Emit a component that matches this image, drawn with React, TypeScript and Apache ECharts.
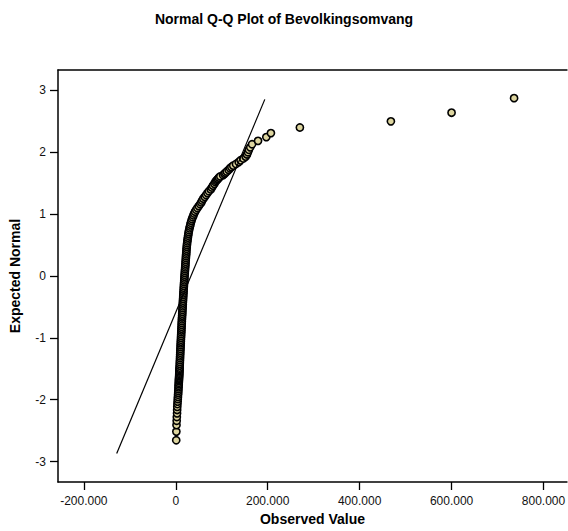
import React, { useEffect, useRef } from "react";
import * as echarts from "echarts";

// Tick positions
const xTicks = [-200000, 0, 200000, 400000, 600000, 800000];
const yTicks = [-3, -2, -1, 0, 1, 2, 3];

// Lower tail (expected normal vs observed value)
const lowerExpected = [
  -2.655, -2.515, -2.41, -2.34, -2.28, -2.22, -2.165, -2.115, -2.07, -2.03,
  -1.99, -1.955, -1.92, -1.89, -1.86, -1.83, -1.8, -1.775, -1.75, -1.725,
  -1.7, -1.68, -1.66, -1.64, -1.62, -1.6, -1.58, -1.56, -1.54, -1.52,
  -1.5,
];
const lowerObserved = [
  1000, 1300, 1600, 2000, 2300, 2800, 3000, 3300, 3600, 4000,
  4400, 4700, 5000, 5300, 5500, 5800, 6000, 6200, 6400, 6600,
  6800, 6900, 7100, 7200, 7400, 7500, 7700, 7800, 7900, 8000,
  8200,
];

// Body
const bodyExpected = [
  -1.48, -1.45, -1.42, -1.39, -1.36, -1.33, -1.3, -1.27, -1.24, -1.21,
  -1.18, -1.15, -1.12, -1.09, -1.06, -1.03, -1.0, -0.97, -0.94, -0.91,
  -0.88, -0.85, -0.82, -0.79, -0.76, -0.73, -0.7, -0.67, -0.64, -0.61,
  -0.58, -0.55, -0.52, -0.49, -0.46, -0.43, -0.4, -0.37, -0.34, -0.31,
  -0.28, -0.25, -0.22, -0.19, -0.16, -0.13, -0.1, -0.07, -0.04, -0.01,
  0.02, 0.05, 0.08, 0.11, 0.14, 0.17, 0.2, 0.23, 0.26, 0.29,
  0.32, 0.35, 0.38, 0.41, 0.44, 0.47, 0.5, 0.53, 0.56, 0.59,
  0.62, 0.65, 0.68, 0.71, 0.74, 0.77, 0.8, 0.83, 0.86, 0.89,
  0.92, 0.95, 0.98, 1.01, 1.04, 1.07, 1.1, 1.13, 1.16, 1.19,
  1.22, 1.25, 1.28, 1.31, 1.34, 1.37, 1.4, 1.43, 1.46, 1.49,
  1.52,
];
const bodyObserved = [
  8300, 8500, 8700, 8900, 9100, 9300, 9400, 9600, 9800, 10000,
  10200, 10400, 10600, 10800, 11000, 11200, 11400, 11600, 11800, 12000,
  12200, 12400, 12600, 12800, 13000, 13200, 13400, 13600, 13900, 14100,
  14300, 14500, 14800, 15000, 15200, 15400, 15700, 15900, 16200, 16400,
  16700, 16900, 17200, 17400, 17700, 17900, 18200, 18500, 18700, 19000,
  19300, 19600, 19900, 20200, 20500, 20800, 21100, 21400, 21700, 22000,
  22300, 22600, 22900, 23200, 23500, 23900, 24300, 24700, 25200, 25700,
  26300, 26900, 27500, 28200, 29000, 29800, 30800, 31800, 32800, 34000,
  35300, 36800, 38400, 40000, 42000, 44500, 47000, 50000, 53000, 55500,
  57500, 60000, 63000, 66000, 69000, 72000, 76000, 78500, 81000, 84000,
  86000,
];

// Upper tail
const upperExpected = [
  1.54, 1.555, 1.57, 1.59, 1.61, 1.63, 1.65, 1.67, 1.69, 1.715,
  1.74, 1.76, 1.785, 1.81, 1.84, 1.87, 1.9, 1.93, 1.965, 2.0,
  2.04, 2.08, 2.13, 2.185, 2.245, 2.31, 2.4, 2.5, 2.64, 2.875,
];
const upperObserved = [
  88000, 90000, 92000, 94000, 97000, 103000, 106000, 108000, 111000, 115000,
  118000, 121000, 125000, 131000, 137000, 141000, 147000, 152000, 155000, 157000,
  159000, 162000, 166000, 179000, 197000, 207000, 270000, 468000, 600000, 736000,
];

// Reference line endpoints
const lineObserved = [-128500, 193700];
const lineExpected = [-2.87, 2.855];

const FONT = "'Liberation Sans', Arial, Helvetica, sans-serif";

function fmtNL(v: number): string {
  const s = Math.abs(Math.round(v))
    .toString()
    .replace(/\B(?=(\d{3})+(?!\d))/g, ".");
  return (v < 0 ? "-" : "") + s;
}

export default function App() {
  const ref = useRef<HTMLDivElement>(null);
  useEffect(() => {
    document.body.style.margin = "0";
    const chart = echarts.init(ref.current!, null, { renderer: "svg" });
    const expected = [...lowerExpected, ...bodyExpected, ...upperExpected];
    const observed = [...lowerObserved, ...bodyObserved, ...upperObserved];
    const points = observed.map((x, i) => [x, expected[i]]);
    const linePts = lineObserved.map((x, i) => [x, lineExpected[i]]);

    chart.setOption({
      animation: false,
      backgroundColor: "#ffffff",
      title: {
        text: "Normal Q-Q Plot of Bevolkingsomvang",
        left: "center",
        top: 12,
        padding: [0, 0, 0, 10],
        textStyle: {
          fontFamily: FONT,
          fontSize: 14,
          fontWeight: "bold",
          color: "#000",
        },
      },
      grid: { left: 54, right: 0, top: 70, bottom: 49, containLabel: false },
      xAxis: [
        {
          type: "value",
          position: "bottom",
          min: -256200,
          max: 851000,
          name: "Observed Value",
          nameLocation: "middle",
          nameGap: 30,
          nameTextStyle: {
            fontFamily: FONT,
            fontSize: 14,
            fontWeight: "bold",
            color: "#000",
          },
          axisLine: { show: true, onZero: false, lineStyle: { color: "#000", width: 1.5 } },
          axisTick: {
            show: true,
            length: 8,
            customValues: xTicks,
            lineStyle: { color: "#000", width: 1.3 },
          },
          axisLabel: {
            customValues: xTicks,
            formatter: (v: number) => fmtNL(v),
            fontFamily: FONT,
            fontSize: 12,
            color: "#111",
            margin: 13,
          },
          splitLine: { show: false },
        },
        {
          type: "value",
          position: "top",
          min: -256200,
          max: 851000,
          axisLine: { show: true, onZero: false, lineStyle: { color: "#000", width: 1.5 } },
          axisTick: { show: false },
          axisLabel: { show: false },
          splitLine: { show: false },
        },
      ],
      yAxis: {
        type: "value",
        min: -3.33,
        max: 3.33,
        name: "Expected Normal",
        nameLocation: "middle",
        nameGap: 36,
        nameTextStyle: {
          fontFamily: FONT,
          fontSize: 14,
          fontWeight: "bold",
          color: "#000",
        },
        axisLine: { show: true, onZero: false, lineStyle: { color: "#000", width: 1.5 } },
        axisTick: {
          show: true,
          length: 8,
          customValues: yTicks,
          lineStyle: { color: "#000", width: 1.3 },
        },
        axisLabel: {
          customValues: yTicks,
          formatter: (v: number) => String(v),
          fontFamily: FONT,
          fontSize: 12,
          color: "#111",
          margin: 12,
        },
        splitLine: { show: false },
      },
      series: [
        {
          type: "scatter",
          xAxisIndex: 0,
          data: points,
          symbol: "circle",
          symbolSize: 7.2,
          itemStyle: { color: "#DDD59F", borderColor: "#000", borderWidth: 1.6, opacity: 1 },
          z: 2,
        },
        {
          type: "line",
          xAxisIndex: 0,
          data: linePts,
          symbol: "none",
          lineStyle: { color: "#000", width: 1.2 },
          z: 3,
        },
      ],
    });
    return () => chart.dispose();
  }, []);
  return <div ref={ref} style={{ width: 568, height: 531 }} />;
}
